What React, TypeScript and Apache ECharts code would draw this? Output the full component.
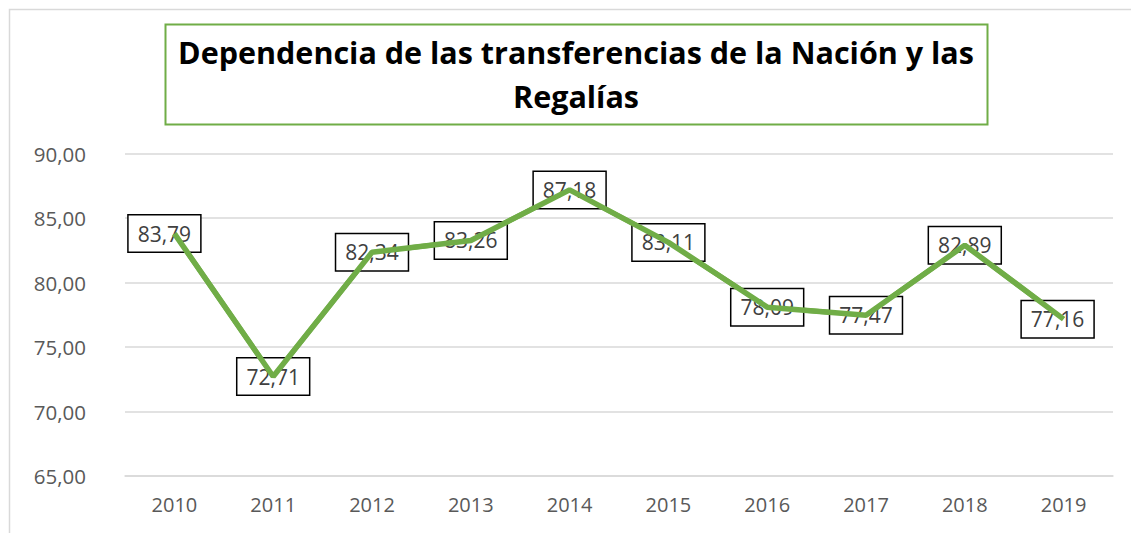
import React, { useEffect, useRef } from "react";
import * as echarts from "echarts";

const years = ["2010", "2011", "2012", "2013", "2014", "2015", "2016", "2017", "2018", "2019"];
const values = [83.79, 72.71, 82.34, 83.26, 87.18, 83.11, 78.09, 77.47, 82.89, 77.16];
const labelShiftX = [-10, 0, 0, 0, 0, 0, 0, 0, 0, -6];
const titleText = "Dependencia de las transferencias de la Nación y las\nRegalías";

const fmt = (v: number) => v.toFixed(2).replace(".", ",");

export default function App() {
  const ref = useRef<HTMLDivElement>(null);
  useEffect(() => {
    const chart = echarts.init(ref.current!, null, { renderer: "svg" });
    chart.setOption({
      animation: false,
      backgroundColor: "#ffffff",
      textStyle: { fontFamily: "Open Sans" },
      grid: { left: 125, right: 18, top: 153.5, bottom: 57 },
      xAxis: {
        type: "category",
        data: years,
        boundaryGap: true,
        axisLine: { show: true, lineStyle: { color: "#D9D9D9", width: 1.5 } },
        axisTick: { show: false },
        axisLabel: { color: "#595959", fontSize: 20, margin: 18, fontFamily: "Open Sans" },
      },
      yAxis: {
        type: "value",
        min: 65,
        max: 90,
        interval: 5,
        axisLine: { show: false },
        axisTick: { show: false },
        splitLine: { lineStyle: { color: "#D9D9D9", width: 1.5 } },
        axisLabel: {
          color: "#595959",
          fontSize: 20.5,
          margin: 39,
          fontFamily: "Open Sans",
          formatter: (v: number) => fmt(v),
        },
      },
      graphic: [
        {
          type: "rect",
          shape: { x: 9.5, y: 9.5, width: 1300, height: 700 },
          style: { fill: "none", stroke: "#D9D9D9", lineWidth: 1.5 },
          silent: true,
          z: -10,
        },
        {
          type: "rect",
          shape: { x: 165.5, y: 24.5, width: 822, height: 100 },
          style: { fill: "#ffffff", stroke: "#70AD47", lineWidth: 2 },
          silent: true,
        },
        {
          type: "text",
          x: 576,
          y: 74,
          style: {
            text: titleText,
            fill: "#000000",
            font: "bold 30.5px 'Open Sans'",
            textAlign: "center",
            textVerticalAlign: "middle",
            lineHeight: 44,
          },
          silent: true,
        },
      ],
      series: [
        {
          type: "line",
          data: values.map((v, i) => ({
            value: v,
            label: { offset: [labelShiftX[i], 0] },
          })),
          symbol: "circle",
          symbolSize: 1,
          showSymbol: true,
          lineStyle: { color: "#70AD47", width: 5 },
          itemStyle: { color: "#70AD47" },
          label: {
            show: true,
            position: "inside",
            formatter: (p: any) => fmt(p.value),
            color: "#404040",
            fontSize: 21,
            fontFamily: "Open Sans",
            backgroundColor: "#ffffff",
            borderColor: "#000000",
            borderWidth: 1.5,
            padding: [8, 9, 7, 9],
          },
          z: 3,
        },
        {
          type: "line",
          data: values,
          symbol: "none",
          silent: true,
          lineStyle: { color: "#70AD47", width: 5.5 },
          itemStyle: { color: "#70AD47" },
          z: 10,
        },
      ],
    });
    return () => chart.dispose();
  }, []);
  return (
    <div
      ref={ref}
      style={{ position: "fixed", left: 0, top: 0, width: 1131, height: 533 }}
    />
  );
}
